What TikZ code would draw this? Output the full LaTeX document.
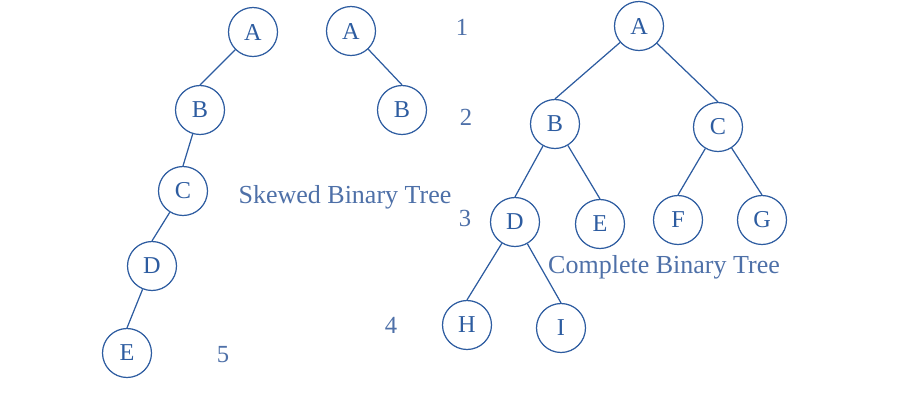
\documentclass[tikz,border=0pt]{standalone}
\usepackage{fontspec}
\setmainfont{Liberation Serif}
\definecolor{treeblue}{RGB}{45,92,160}
\definecolor{textblue}{RGB}{78,112,168}
\usetikzlibrary{positioning}
\tikzset{
  vertex/.style={circle, draw=treeblue, line width=0.7pt, minimum size=0.98cm,
                 inner sep=0pt, font=\fontsize{13.8}{16}\selectfont, text=treeblue},
  edge/.style={treeblue, line width=0.7pt},
  lvl/.style={font=\fontsize{14}{16}\selectfont, text=textblue},
  caption/.style={font=\fontsize{14.8}{16}\selectfont, text=textblue}
}
\begin{document}
\begin{tikzpicture}[x=0.02cm, y=-0.02cm]
\useasboundingbox (0,0) rectangle (900,400);

% --- Skewed tree (left) ---
\node[vertex] (sa) at (253,32) {A};
\node[vertex] (sb) at (200,110) {B};
\node[vertex] (sc) at (183,191) {C};
\node[vertex] (sd) at (152,266) {D};
\node[vertex] (se) at (127,353) {E};
\draw[edge] (sa) -- (sb.north);
\draw[edge] (sb) -- (sc.north);
\draw[edge] (sc) -- (sd.north);
\draw[edge] (sd) -- (se.north);

% --- Skewed tree (right) ---
\node[vertex] (ra) at (351,31) {A};
\node[vertex] (rb) at (402,110) {B};
\draw[edge] (ra) -- (rb.north);

\node[caption] (skew) at (345,197) {Skewed Binary Tree};

% --- Level numbers ---
\node[lvl] (l1) at (462,27) {1};
\node[lvl] (l2) at (466,117) {2};
\node[lvl] (l3) at (465,218) {3};
\node[lvl] (l4) at (391,325) {4};
\node[lvl] (l5) at (223,355) {5};

% --- Complete tree ---
\node[vertex] (ca) at (639,26) {A};
\node[vertex] (cb) at (555,124) {B};
\node[vertex] (cc) at (718,127) {C};
\node[vertex] (cd) at (515,222) {D};
\node[vertex] (ce) at (600,224) {E};
\node[vertex] (cf) at (678,220) {F};
\node[vertex] (cg) at (762,220) {G};
\node[vertex] (ch) at (467,325) {H};
\node[vertex] (ci) at (561,328) {I};
\draw[edge] (ca) -- (cb.north);
\draw[edge] (ca) -- (cc.north);
\draw[edge] (cb) -- (cd.north);
\draw[edge] (cb) -- (ce.north);
\draw[edge] (cc) -- (cf.north);
\draw[edge] (cc) -- (cg.north);
\draw[edge] (cd) -- (ch.north);
\draw[edge] (cd) -- (ci.north);

\node[caption] (comp) at (664,267) {Complete Binary Tree};

\end{tikzpicture}
\end{document}
